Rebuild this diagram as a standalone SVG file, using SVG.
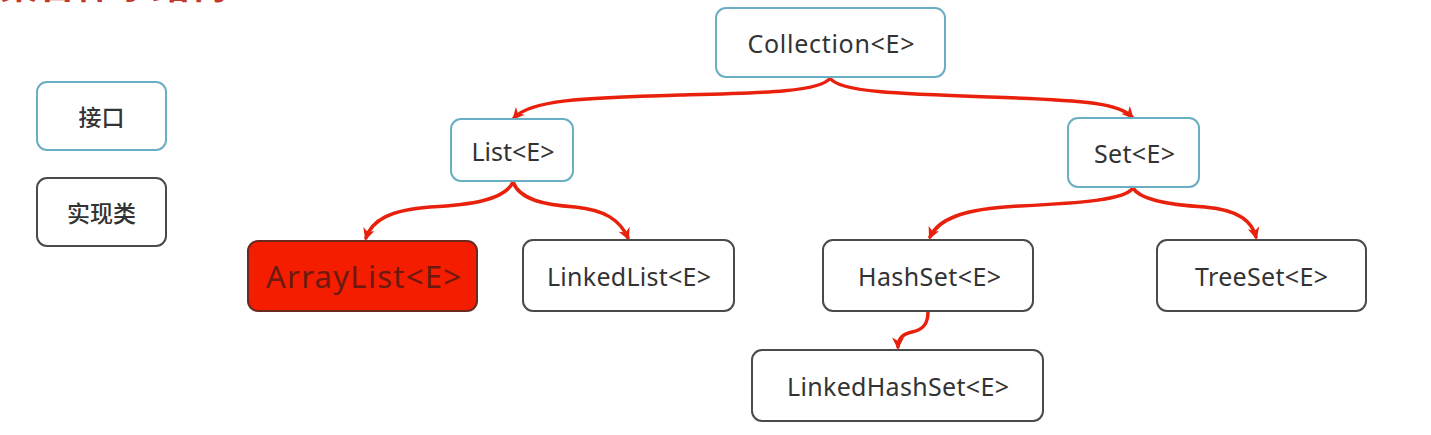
<svg xmlns="http://www.w3.org/2000/svg" width="1431" height="435" viewBox="0 0 1431 435">
<style>
.iface{fill:#ffffff;stroke:#6aaec4;stroke-width:2}
.impl{fill:#ffffff;stroke:#4a4a4a;stroke-width:2}
.hl{fill:#f41d00;stroke:#6a2a20;stroke-width:2}
.t{font-family:"Noto Sans","Open Sans",sans-serif;font-size:25px;fill:#333333;text-anchor:middle;dominant-baseline:central}
.cjk{font-family:"Noto Sans CJK SC",sans-serif;font-size:23px;fill:#333333;text-anchor:middle;dominant-baseline:central;font-weight:500}
.big{font-size:31px;fill:#6a1a10}
.edge{fill:none;stroke:#e8200c;stroke-width:3.5;stroke-linecap:round}
</style>
<defs>
<marker id="arr" viewBox="0 0 10 10" refX="8" refY="5" markerWidth="12" markerHeight="12" markerUnits="userSpaceOnUse" orient="auto">
<path d="M0,0 L10,5 L0,10 L3,5 Z" fill="#e8200c"/>
</marker>
</defs>
<text x="0" y="-2" font-family="Noto Sans CJK SC, sans-serif" font-size="38" font-weight="700" fill="#c0392b">集合体系结构</text>
<g id="connectors">
<path class="edge" marker-end="url(#arr)" d="M830,78 C822,92 760,93 680,95 C580,98 530,100 514,118"/>
<path class="edge" marker-end="url(#arr)" d="M830,78 C838,92 900,94 990,97 C1090,100 1120,104 1132,117"/>
<path class="edge" marker-end="url(#arr)" d="M513,182 C505,200 470,205 430,207 C390,210 372,220 366,238"/>
<path class="edge" marker-end="url(#arr)" d="M513,182 C520,200 545,205 575,207 C605,210 620,220 628,238"/>
<path class="edge" marker-end="url(#arr)" d="M1133,188 C1125,200 1080,203 1020,206 C960,209 938,220 930,237"/>
<path class="edge" marker-end="url(#arr)" d="M1133,188 C1140,200 1170,205 1205,207 C1240,210 1252,222 1256,237"/>
<path class="edge" marker-end="url(#arr)" d="M928,312 C928,325 922,330 912,332 C902,334 898,340 898,347"/>
</g>
<g id="legend-interface"><rect class="iface" x="37" y="82" width="129" height="68" rx="10"/><text class="cjk" x="101.5" y="116">接口</text></g>
<g id="legend-impl"><rect class="impl" x="37" y="178" width="129" height="68" rx="10"/><text class="cjk" x="101.5" y="212">实现类</text></g>
<g id="collection"><rect class="iface" x="716" y="8" width="229" height="69" rx="10"/><text class="t" x="831" y="43" textLength="167">Collection&lt;E&gt;</text></g>
<g id="list"><rect class="iface" x="451" y="119" width="122" height="62" rx="10"/><text class="t" x="513" y="151" textLength="83">List&lt;E&gt;</text></g>
<g id="set"><rect class="iface" x="1068" y="118" width="131" height="69" rx="10"/><text class="t" x="1134.5" y="153" textLength="81">Set&lt;E&gt;</text></g>
<g id="arraylist"><rect class="hl" x="248" y="241" width="229" height="70" rx="10"/><text class="t big" x="363.5" y="276" textLength="195">ArrayList&lt;E&gt;</text></g>
<g id="linkedlist"><rect class="impl" x="523" y="240" width="211" height="71" rx="10"/><text class="t" x="629" y="276" textLength="164">LinkedList&lt;E&gt;</text></g>
<g id="hashset"><rect class="impl" x="823" y="240" width="210" height="71" rx="10"/><text class="t" x="929.5" y="276" textLength="143">HashSet&lt;E&gt;</text></g>
<g id="treeset"><rect class="impl" x="1157" y="240" width="209" height="71" rx="10"/><text class="t" x="1261.5" y="276" textLength="133">TreeSet&lt;E&gt;</text></g>
<g id="linkedhashset"><rect class="impl" x="752" y="350" width="291" height="71" rx="10"/><text class="t" x="898" y="386" textLength="222">LinkedHashSet&lt;E&gt;</text></g>
</svg>
